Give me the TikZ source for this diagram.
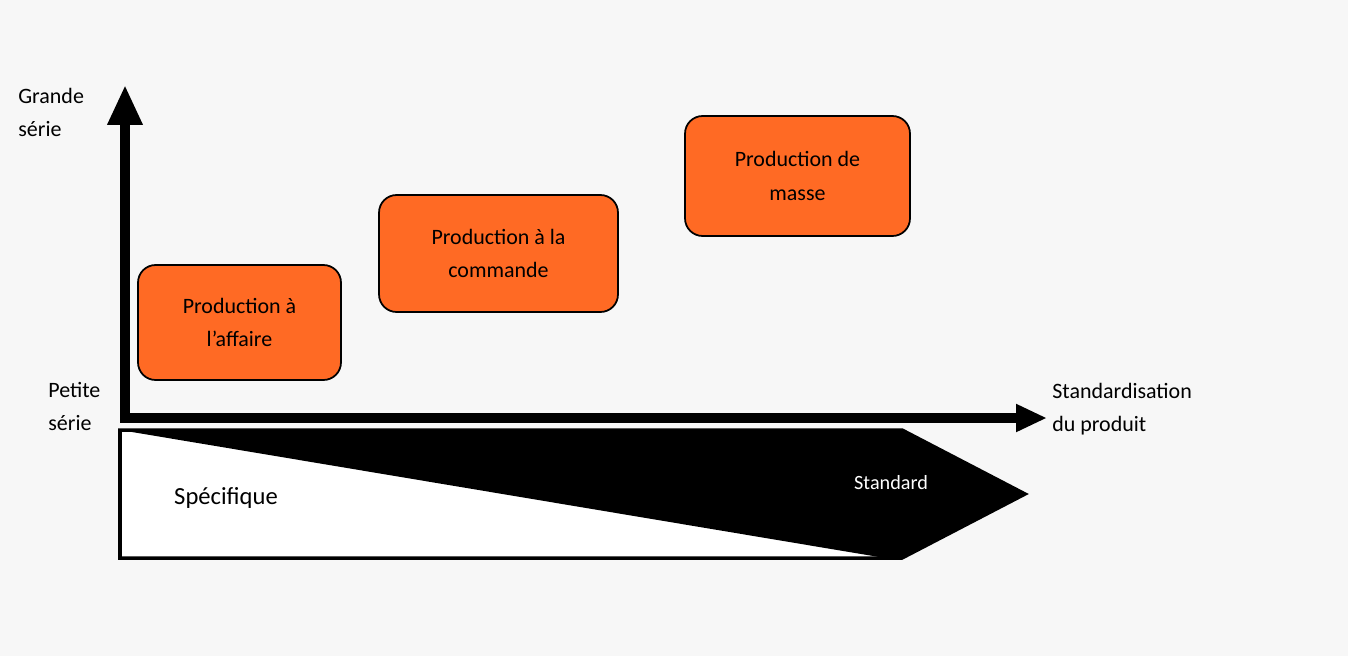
\documentclass[tikz,border=0pt]{standalone}
\usepackage{fontspec}
\setmainfont{Carlito}
\usetikzlibrary{arrows.meta,positioning}
\definecolor{bgc}{HTML}{F7F7F7}
\definecolor{prodorange}{HTML}{FF6A24}
\tikzstyle{prodbox} = [rectangle, draw, rounded corners=10pt, fill=prodorange,
                     align=center, line width=1pt, font=\fontsize{12.5}{19}\selectfont]
\tikzstyle{axislabel} = [anchor=north west, align=left, inner sep=0pt,
                     font=\fontsize{12.5}{19}\selectfont]
\begin{document}
\begin{tikzpicture}[x=0.02cm,y=-0.02cm,
axis/.style={line width=5.5pt}]
% background
\fill[bgc] (0,0) rectangle (1348,656);
\useasboundingbox (0,0) rectangle (1348,656);
% axes
\coordinate (orig) at (125,418);
\coordinate (ytip) at (125,85);
\coordinate (xtip) at (1047,418);
\draw[axis,-{Triangle[length=0.8cm,width=0.66cm]}] (125,421) -- (ytip);
\draw[axis,-{Triangle[length=0.62cm,width=0.52cm]}] (120,418) -- (xtip);
% specific / standard band
\fill[white] (120,430) -- (902,430) -- (1025,494) -- (902,558) -- (120,558) -- cycle;
\fill[black] (120,430) -- (902,430) -- (1025,494) -- (902,558) -- (885,558) -- cycle;
\draw[line width=2pt] (120,430) -- (902,430) -- (1025,494) -- (902,558) -- (120,558) -- cycle;
\node[anchor=west, font=\fontsize{14}{17}\selectfont] (spec) at (168,498) {Spécifique};
\node[anchor=west, white, font=\fontsize{11.5}{14}\selectfont] (std) at (848,483) {Standard};
% boxes
\node[prodbox, minimum width=4.06cm, minimum height=2.3cm] (affaire) at (239.5,322.5) {Production à\\l’affaire};
\node[prodbox, minimum width=4.78cm, minimum height=2.34cm] (commande) at (498.5,253.5) {Production à la\\commande};
\node[prodbox, minimum width=4.5cm, minimum height=2.4cm] (masse) at (797.5,176) {Production de\\masse};
% labels
\node[axislabel] (grande) at (18,88) {Grande\\série};
\node[axislabel] (petite) at (48,382) {Petite\\série};
\node[axislabel] (stdprod) at (1052,383) {Standardisation\\du produit};
\end{tikzpicture}
\end{document}
